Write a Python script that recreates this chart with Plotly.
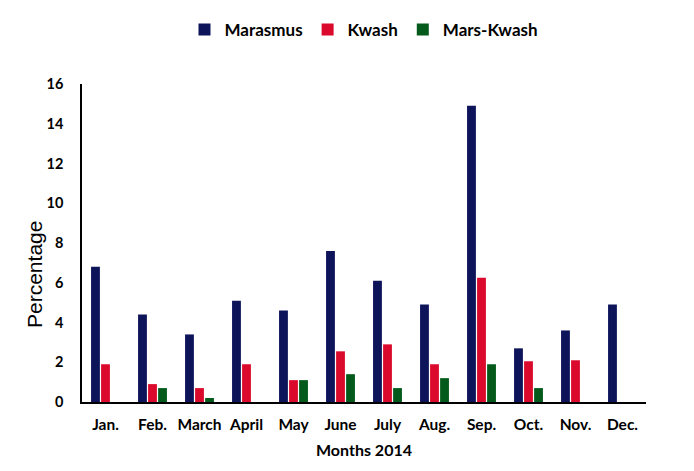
import plotly.graph_objects as go

months = ["Jan.", "Feb.", "March", "April", "May", "June", "July", "Aug.", "Sep.", "Oct.", "Nov.", "Dec."]
marasmus = [6.8, 4.4, 3.4, 5.1, 4.6, 7.6, 6.1, 4.9, 14.9, 2.7, 3.6, 4.9]
kwash = [1.9, 0.9, 0.7, 1.9, 1.1, 2.55, 2.9, 1.9, 6.25, 2.05, 2.1, 0]
mars_kwash = [0, 0.7, 0.2, 0, 1.1, 1.4, 0.7, 1.2, 1.9, 0.7, 0, 0]
y_ticks = [0, 2, 4, 6, 8, 10, 12, 14, 16]

fig = go.Figure()
fig.add_trace(go.Bar(name="Marasmus", x=months, y=marasmus, marker_color="#0d1459",
                     marker_line_width=0))
fig.add_trace(go.Bar(name="Kwash", x=months, y=kwash, marker_color="#db0a2c",
                     marker_line_width=0))
fig.add_trace(go.Bar(name="Mars-Kwash", x=months, y=mars_kwash, marker_color="#035a1b",
                     marker_line_width=0))

# page body has an 8px margin; margins below compensate for it
fig.update_layout(
    width=694, height=471,
    margin=dict(l=74, r=56, t=76, b=77, autoexpand=False),
    paper_bgcolor="white", plot_bgcolor="white",
    barmode="group", bargap=0.36, bargroupgap=0.12,
    font=dict(family="Lato, Arial, sans-serif", color="black"),
    legend=dict(orientation="h", x=0.5, xref="paper", xanchor="center", y=1.17, yanchor="middle",
                font=dict(size=17, family="Lato", weight="bold"), itemwidth=30,
                traceorder="normal"),
    showlegend=True,
)
fig.add_annotation(text="Percentage", xref="paper", yref="paper", x=-0.083, y=0.4,
                   xanchor="center", yanchor="middle", textangle=-90, showarrow=False,
                   font=dict(size=21, family="Liberation Sans, Arial", color="black"))
fig.update_xaxes(
    showline=True, linecolor="black", linewidth=1.5, showgrid=False, ticks="",
    automargin=False, ticklabelstandoff=8,
    tickfont=dict(size=15.5, family="Lato", weight="bold"),
    title=dict(text="Months 2014", font=dict(size=16, family="Lato", weight="bold"), standoff=12),
)
fig.update_yaxes(
    range=[0, 16], tickvals=y_ticks, showline=True, linecolor="black", linewidth=1.5,
    showgrid=False, zeroline=False, ticks="", automargin=False,
    tickfont=dict(size=14.5, family="Lato", weight="bold"), ticklabelstandoff=14,
)

fig.write_html("out.html")
